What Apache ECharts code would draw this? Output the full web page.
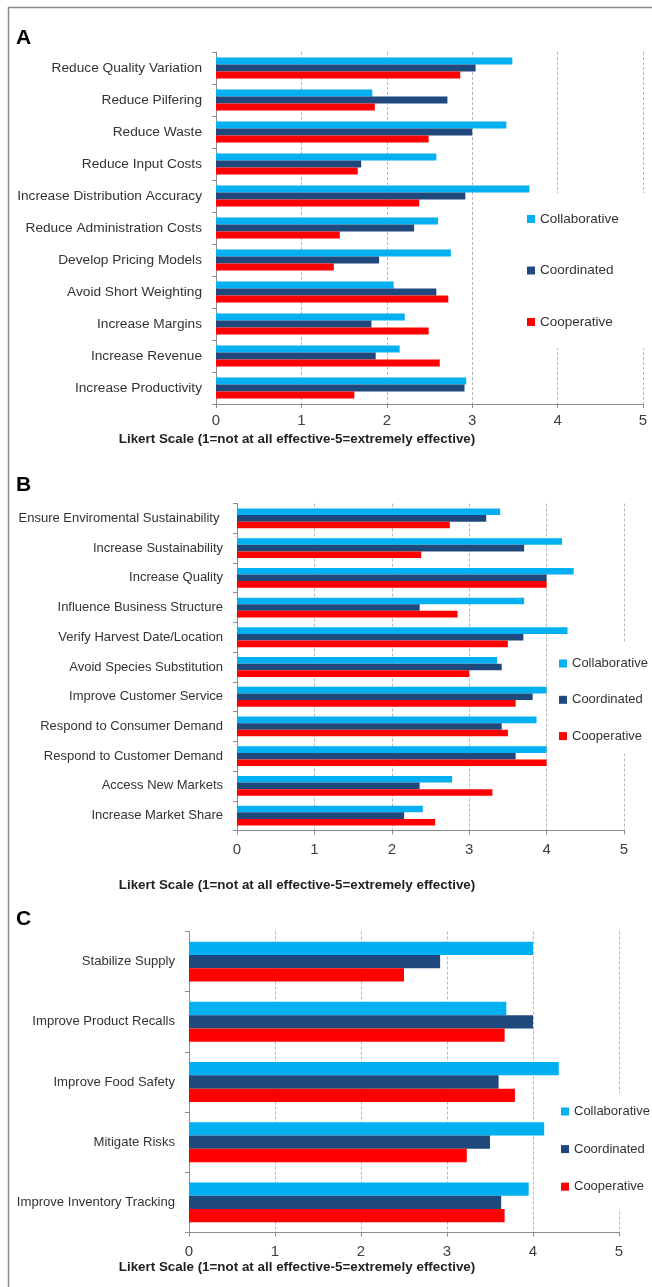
<!DOCTYPE html>
<html>
<head>
<meta charset="utf-8">
<script src="https://cdn.jsdelivr.net/npm/echarts@6/dist/echarts.min.js"></script>
<style>
html,body{margin:0;padding:0;background:#fff;}
#c{width:652px;height:1287px;}
</style>
</head>
<body>
<div id="c"></div>
<script>
// ---------- DATA ----------
const seriesNames = ['Collaborative', 'Coordinated', 'Cooperative'];
const xTicks = [0, 1, 2, 3, 4, 5];
const xTitle = 'Likert Scale (1=not at all effective-5=extremely effective)';

const catsA = ['Reduce Quality Variation', 'Reduce Pilfering', 'Reduce Waste', 'Reduce Input Costs',
  'Increase Distribution Accuracy', 'Reduce Administration Costs', 'Develop Pricing Models',
  'Avoid Short Weighting', 'Increase Margins', 'Increase Revenue', 'Increase Productivity'];
const collabA = [3.47, 1.83, 3.40, 2.58, 3.67, 2.60, 2.75, 2.08, 2.21, 2.15, 2.93];
const coordA  = [3.04, 2.71, 3.00, 1.70, 2.92, 2.32, 1.91, 2.58, 1.82, 1.87, 2.91];
const coopA   = [2.86, 1.86, 2.49, 1.66, 2.38, 1.45, 1.38, 2.72, 2.49, 2.62, 1.62];

const catsB = ['Ensure Enviromental Sustainability ', 'Increase Sustainability', 'Increase Quality',
  'Influence Business Structure', 'Verify Harvest Date/Location', 'Avoid Species Substitution',
  'Improve Customer Service', 'Respond to Consumer Demand', 'Respond to Customer Demand',
  'Access New Markets', 'Increase Market Share'];
const collabB = [3.40, 4.20, 4.35, 3.71, 4.27, 3.36, 4.00, 3.87, 4.00, 2.78, 2.40];
const coordB  = [3.22, 3.71, 4.00, 2.36, 3.70, 3.42, 3.82, 3.42, 3.60, 2.36, 2.16];
const coopB   = [2.75, 2.38, 4.00, 2.85, 3.50, 3.00, 3.60, 3.50, 4.00, 3.30, 2.56];

const catsC = ['Stabilize Supply', 'Improve Product Recalls', 'Improve Food Safety', 'Mitigate Risks',
  'Improve Inventory Tracking'];
const collabC = [4.00, 3.69, 4.30, 4.13, 3.95];
const coordC  = [2.92, 4.00, 3.60, 3.50, 3.63];
const coopC   = [2.50, 3.67, 3.79, 3.23, 3.67];

// ---------- STYLE ----------
const colors = ['#00b0f0', '#1f497d', '#ff0000'];
const FONT = "'Liberation Sans', Arial, sans-serif";
const txt = '#333333';
const axisGray = '#8c8c8c';

const panels = [
  { cats: catsA, vals: [collabA, coordA, coopA], grid: {left: 216, top: 52, width: 427, height: 352},
    barW: 7, tickMargin: 9, labelSize: 13.7, letter: 'A', letterY: 40, titleY: 439,
    legend: {left: 520, top: 193, gap: 37.5, pad: [19, 28, 19, 7], size: 13.5} },
  { cats: catsB, vals: [collabB, coordB, coopB], grid: {left: 237, top: 503.5, width: 387, height: 327},
    barW: 6.6, tickMargin: 12, labelSize: 13, letter: 'B', letterY: 487, titleY: 885,
    legend: {left: 550, top: 643, gap: 23.3, pad: [14, 4, 11, 9], size: 13} },
  { cats: catsC, vals: [collabC, coordC, coopC], grid: {left: 189, top: 931.5, width: 430, height: 301},
    barW: 13.3, tickMargin: 12, labelSize: 13.1, letter: 'C', letterY: 921, titleY: 1267,
    legend: {left: 552, top: 1093, gap: 24.6, pad: [12, 4, 16, 9], size: 13} }
];

const option = {
  animation: false,
  backgroundColor: '#ffffff',
  textStyle: {fontFamily: FONT},
  grid: [], xAxis: [], yAxis: [], series: [], legend: [], graphic: []
};

panels.forEach((p, i) => {
  option.grid.push(Object.assign({containLabel: false}, p.grid));
  option.xAxis.push({
    type: 'value', gridIndex: i, min: xTicks[0], max: xTicks[xTicks.length - 1], interval: 1,
    axisLine: {show: true, lineStyle: {color: axisGray, width: 1}},
    axisTick: {show: true, length: 4, lineStyle: {color: axisGray}},
    axisLabel: {margin: p.tickMargin, fontSize: 15, color: '#404040', fontFamily: FONT},
    splitLine: {show: true, lineStyle: {color: '#b8b8b8', type: [3, 2], width: 1}}
  });
  option.yAxis.push({
    type: 'category', gridIndex: i, data: p.cats, inverse: true,
    axisLine: {show: true, lineStyle: {color: axisGray, width: 1}},
    axisTick: {show: true, length: 4, lineStyle: {color: axisGray}},
    axisLabel: {margin: 14, fontSize: p.labelSize, color: txt, fontFamily: FONT},
    splitLine: {show: false}
  });
  seriesNames.forEach((name, k) => {
    option.series.push({
      type: 'bar', name: name, xAxisIndex: i, yAxisIndex: i,
      data: p.vals[k], barWidth: p.barW, barGap: '0%',
      itemStyle: {color: colors[k]}
    });
  });
  option.legend.push({
    orient: 'vertical', left: p.legend.left, top: p.legend.top,
    itemWidth: 8, itemHeight: 8, itemGap: p.legend.gap, icon: 'rect',
    padding: p.legend.pad, backgroundColor: '#ffffff', selectedMode: false,
    textStyle: {fontSize: p.legend.size, color: txt, fontFamily: FONT},
    data: seriesNames
  });
  option.graphic.push({
    type: 'text', left: 16, top: p.letterY - 12,
    style: {text: p.letter, font: "bold 21px 'Liberation Sans', Arial, sans-serif", fill: '#000'}
  });
  option.graphic.push({
    type: 'text', x: 297, y: p.titleY,
    style: {text: xTitle, font: "bold 13.4px 'Liberation Sans', Arial, sans-serif", fill: '#222',
      textAlign: 'center', textVerticalAlign: 'middle'}
  });
});

option.graphic.push({
  type: 'rect', silent: true, z: 100,
  shape: {x: 8.5, y: 7.5, width: 700, height: 1400},
  style: {fill: 'none', stroke: '#8a8a8a', lineWidth: 1.5}
});

const chart = echarts.init(document.getElementById('c'), null, {renderer: 'canvas'});
chart.setOption(option);
</script>
</body>
</html>
